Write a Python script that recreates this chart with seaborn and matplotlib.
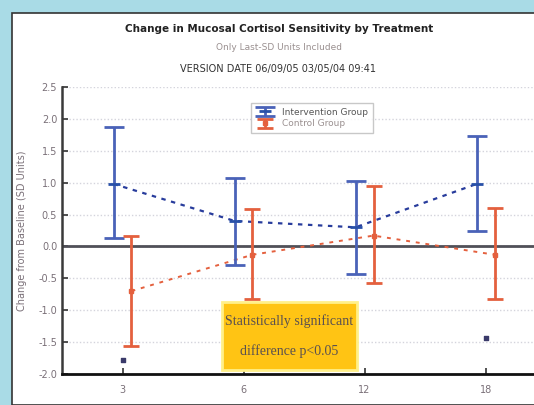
import matplotlib
matplotlib.use("Agg")
import matplotlib.pyplot as plt
from matplotlib.patches import Rectangle
import seaborn as sns
import pandas as pd
import numpy as np

# chart data
months = ["3", "6", "12", "18"]
ctrl_mean = [0.98, 0.40, 0.30, 0.98]
ctrl_lo = [0.14, -0.29, -0.43, 0.25]
ctrl_hi = [1.87, 1.08, 1.03, 1.73]
trt_mean = [-0.70, -0.13, 0.17, -0.13]
trt_lo = [-1.56, -0.83, -0.57, -0.83]
trt_hi = [0.16, 0.59, 0.94, 0.60]
sig_idx = [0, 3]
sig_val = [-1.78, -1.43]

blue = "#2850a8"
red = "#e4603e"

sns.set_style("white")
plt.rcParams["font.family"] = ["DejaVu Sans"]

fig = plt.figure(figsize=(5.34, 4.05), dpi=100)
fig.patch.set_facecolor("#a9dbe6")
fig.patches.append(Rectangle((12 / 534, 0), 1, 1 - 13 / 405, transform=fig.transFigure,
                             facecolor="white", edgecolor="#333333", lw=1.2, zorder=-5))

ax = fig.add_axes([62 / 534, 1 - 374 / 405, (534 - 62) / 534, (374 - 87) / 405])
ax.set_zorder(2)
ax.set_facecolor("white")

x = np.arange(len(months))
off = 0.074
df = pd.DataFrame({"x": np.concatenate([x - off, x + off]),
                   "y": ctrl_mean + trt_mean,
                   "grp": ["ctrl"] * 4 + ["trt"] * 4})

# dashed connecting lines
sns.lineplot(data=df[df.grp == "ctrl"], x="x", y="y", ax=ax, color="#283c9c",
             lw=1.6, dashes=(2, 2.5), legend=False, zorder=3)
sns.lineplot(data=df[df.grp == "trt"], x="x", y="y", ax=ax, color=red,
             lw=1.4, dashes=(2, 3), legend=False, zorder=3)

# error bars
ax.errorbar(x - off, ctrl_mean,
            yerr=[np.array(ctrl_mean) - np.array(ctrl_lo), np.array(ctrl_hi) - np.array(ctrl_mean)],
            fmt="_", color=blue, ecolor="#4a62b8", elinewidth=2, capsize=7, capthick=2.2,
            markersize=9, mew=2, label="Intervention Group", zorder=4)
ax.errorbar(x + off, trt_mean,
            yerr=[np.array(trt_mean) - np.array(trt_lo), np.array(trt_hi) - np.array(trt_mean)],
            fmt="s", color=red, ecolor=red, elinewidth=2, capsize=6, capthick=2,
            markersize=3.5, label="Control Group", zorder=4)

# significance marks
ax.scatter(x[sig_idx], sig_val, marker="s", s=10, color="#3a3a6a", zorder=5)

ax.axhline(0, color="#505058", lw=2, zorder=2)
ax.set_ylim(-2.0, 2.5)
ax.set_xlim(-0.5, 3.4)
ax.set_yticks(np.arange(-2.0, 2.51, 0.5))
ax.set_yticklabels([f"{v:.1f}" for v in np.arange(-2.0, 2.51, 0.5)])
ax.set_xticks(x)
ax.set_xticklabels(months)
ax.yaxis.grid(True, color="#d4d4dc", lw=1, ls=(0, (1, 1.5)))
ax.set_axisbelow(True)
ax.tick_params(axis="both", direction="in", length=4, width=1.2, colors="#333333",
               labelsize=7, labelcolor="#7a7078", left=True, bottom=True)
ax.tick_params(axis="x", pad=8)
for s in ["top", "right"]:
    ax.spines[s].set_visible(False)
ax.spines["left"].set_color("#3a3a3a")
ax.spines["left"].set_linewidth(1.8)
ax.spines["bottom"].set_color("#111111")
ax.spines["bottom"].set_linewidth(2)
ax.set_xlabel("")
ax.set_ylabel("Change from Baseline (SD Units)", fontsize=7, color="#7a7078", labelpad=8)

leg = ax.legend(loc="upper left", bbox_to_anchor=(0.39, 0.96), fontsize=6.5,
                frameon=True, fancybox=False, borderpad=0.5, handlelength=2.2,
                labelspacing=0.3)
leg.get_frame().set_edgecolor("#bbbbbb")
leg.get_frame().set_linewidth(1)
leg.get_texts()[0].set_color("#555555")
leg.get_texts()[1].set_color("#9a9090")

# yellow annotation box
ax.add_patch(Rectangle((0.339, 0.014), 0.286, 0.237, transform=ax.transAxes,
                       facecolor="#ffc414", edgecolor="#fff08a", lw=2, zorder=6))
ax.text(0.482, 0.185, "Statistically significant", transform=ax.transAxes,
        ha="center", va="center", fontsize=10, family="Liberation Serif",
        color="#5a5050", zorder=7)
ax.text(0.482, 0.08, "difference p<0.05", transform=ax.transAxes,
        ha="center", va="center", fontsize=10, family="Liberation Serif",
        color="#5a5050", zorder=7)

# titles
fig.text(0.522, 1 - 29 / 405, "Change in Mucosal Cortisol Sensitivity by Treatment",
         ha="center", va="center", fontsize=7.5, fontweight="bold", color="#222222")
fig.text(0.522, 1 - 48 / 405, "Only Last-SD Units Included",
         ha="center", va="center", fontsize=6.5, color="#9a9090")
fig.text(0.52, 1 - 69 / 405, "VERSION DATE 06/09/05 03/05/04 09:41",
         ha="center", va="center", fontsize=7, color="#333333")

fig.savefig("out.png", dpi=100, facecolor=fig.get_facecolor())
